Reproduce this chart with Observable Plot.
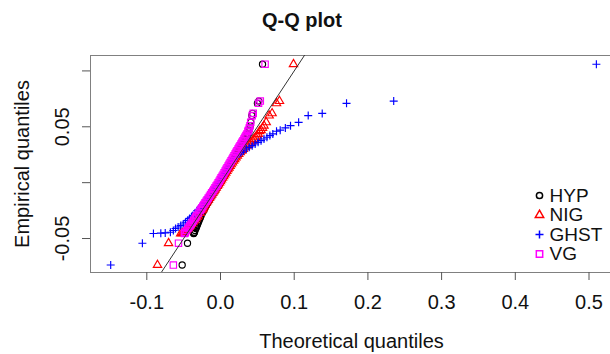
<!DOCTYPE html>
<html><head><meta charset="utf-8">
<script src="https://cdn.jsdelivr.net/npm/d3@7"></script>
<script src="https://cdn.jsdelivr.net/npm/@observablehq/plot@0.6"></script>
<style>
body{margin:0;overflow:hidden;background:#fff;font-family:"Liberation Sans",Arial,sans-serif}
#title{height:40px;line-height:40px;font-size:20px;font-weight:bold;text-align:center;width:604px;color:#111}
#chart{width:610px;overflow:hidden}
#chart svg{max-width:none !important}
</style></head><body>
<div id="title">Q-Q plot</div>
<div id="chart"></div>
<script>
// Empirical quantiles (shared y values, sorted)
const empirical = [
  -0.0737, -0.0542, -0.0455, -0.0452, -0.0450, -0.0444, -0.0428, -0.0410, -0.0397, -0.0384,
  -0.0370, -0.0354, -0.0338, -0.0320, -0.0308, -0.0295, -0.0272, -0.0250, -0.0238,
  -0.0224, -0.0211, -0.0196, -0.0181, -0.0166, -0.0152, -0.0137, -0.0121, -0.0106, -0.0091,
  -0.0076, -0.0061, -0.0046, -0.0031, -0.0016, -0.0002, 0.0013, 0.0028, 0.0043, 0.0058,
  0.0074, 0.0089, 0.0104, 0.0119, 0.0134, 0.0149, 0.0164, 0.0180, 0.0195, 0.0210,
  0.0225, 0.0241, 0.0256, 0.0271, 0.0286, 0.0301, 0.0316, 0.0331, 0.0346, 0.0361,
  0.0376, 0.0391, 0.0406, 0.0421, 0.0436,
  0.0460, 0.0470, 0.0490, 0.0510, 0.0540, 0.0600, 0.0620, 0.0710, 0.0730, 0.1060
];
// Theoretical quantiles for each fitted distribution
const hyp = [
  -0.0520, -0.0448, -0.0365, -0.0362, -0.0360, -0.0355, -0.0345, -0.0334, -0.0326, -0.0318,
  -0.0310, -0.0300, -0.0290, -0.0279, -0.0271, -0.0263, -0.0246, -0.0230, -0.0220,
  -0.0210, -0.0199, -0.0186, -0.0173, -0.0159, -0.0146, -0.0132, -0.0118, -0.0104, -0.0090,
  -0.0076, -0.0062, -0.0048, -0.0034, -0.0020, -0.0007, 0.0006, 0.0019, 0.0033, 0.0046,
  0.0060, 0.0074, 0.0087, 0.0100, 0.0114, 0.0127, 0.0140, 0.0154, 0.0168, 0.0181,
  0.0194, 0.0208, 0.0221, 0.0234, 0.0247, 0.0260, 0.0273, 0.0286, 0.0299, 0.0312,
  0.0325, 0.0337, 0.0349, 0.0360, 0.0370,
  0.0382, 0.0388, 0.0396, 0.0403, 0.0410, 0.0425, 0.0435, 0.0500, 0.0520, 0.0570
];
const nig = [
  -0.0855, -0.0705, -0.0540, -0.0520, -0.0505, -0.0490, -0.0465, -0.0441, -0.0424, -0.0408,
  -0.0391, -0.0372, -0.0353, -0.0332, -0.0318, -0.0303, -0.0278, -0.0254, -0.0241,
  -0.0236, -0.0224, -0.0209, -0.0194, -0.0179, -0.0165, -0.0150, -0.0134, -0.0119, -0.0104,
  -0.0089, -0.0074, -0.0059, -0.0044, -0.0029, -0.0015, -0.0001, 0.0013, 0.0027, 0.0042,
  0.0057, 0.0071, 0.0086, 0.0100, 0.0115, 0.0130, 0.0145, 0.0161, 0.0177, 0.0193,
  0.0210, 0.0228, 0.0247, 0.0267, 0.0288, 0.0310, 0.0333, 0.0357, 0.0382, 0.0408,
  0.0435, 0.0455, 0.0475, 0.0495, 0.0512,
  0.0530, 0.0550, 0.0570, 0.0590, 0.0620, 0.0660, 0.0700, 0.0760, 0.0800, 0.0990
];
const ghst = [
  -0.1490, -0.1060, -0.0910, -0.0810, -0.0750, -0.0680, -0.0640, -0.0610, -0.0575, -0.0540,
  -0.0505, -0.0475, -0.0445, -0.0420, -0.0395, -0.0375, -0.0345, -0.0315, -0.0295,
  -0.0275, -0.0260, -0.0243, -0.0226, -0.0209, -0.0193, -0.0176, -0.0159, -0.0142, -0.0126,
  -0.0110, -0.0094, -0.0078, -0.0062, -0.0046, -0.0031, -0.0016, -0.0001, 0.0013, 0.0028,
  0.0043, 0.0058, 0.0073, 0.0088, 0.0103, 0.0118, 0.0133, 0.0149, 0.0165, 0.0182,
  0.0200, 0.0222, 0.0248, 0.0278, 0.0312, 0.0350, 0.0390, 0.0430, 0.0470, 0.0510,
  0.0550, 0.0590, 0.0630, 0.0670, 0.0710,
  0.0760, 0.0810, 0.0880, 0.0950, 0.1060, 0.1190, 0.1380, 0.1710, 0.2350, 0.5100
];
const vg = [
  -0.0640, -0.0570, -0.0490, -0.0487, -0.0485, -0.0478, -0.0460, -0.0441, -0.0427, -0.0413,
  -0.0398, -0.0382, -0.0365, -0.0347, -0.0335, -0.0322, -0.0299, -0.0277, -0.0265,
  -0.0252, -0.0240, -0.0225, -0.0210, -0.0195, -0.0181, -0.0166, -0.0150, -0.0135, -0.0120,
  -0.0105, -0.0090, -0.0075, -0.0060, -0.0045, -0.0032, -0.0018, -0.0005, 0.0008, 0.0022,
  0.0036, 0.0049, 0.0063, 0.0076, 0.0089, 0.0103, 0.0116, 0.0130, 0.0144, 0.0157,
  0.0170, 0.0184, 0.0198, 0.0211, 0.0224, 0.0238, 0.0251, 0.0265, 0.0278, 0.0291,
  0.0305, 0.0318, 0.0331, 0.0345, 0.0358,
  0.0372, 0.0380, 0.0390, 0.0400, 0.0410, 0.0430, 0.0444, 0.0516, 0.0540, 0.0605
];

const seriesNames = ["HYP", "NIG", "GHST", "VG"];
const seriesValues = [hyp, nig, ghst, vg];
const seriesColors = ["#000000", "#ff0000", "#0000ff", "#ff00ff"];
const seriesSymbols = ["circle", "triangle", "plus", "square"];
const seriesRadius = [3.1, 3.1, 2.7, 3.6];

const xTicks = [-0.1, 0.0, 0.1, 0.2, 0.3, 0.4, 0.5];
const yTicks = [-0.05, 0.0, 0.05, 0.1];
const yTickLabels = [-0.05, 0.05];
const refLine = {intercept: 0, slope: 1};

const xDomain = [-0.1764, 0.5373];
const yDomain = [-0.0804, 0.1138];

const marks = [];
marks.push(Plot.frame({stroke: "#808080"}));
marks.push(Plot.axisX({ticks: xTicks, tickSize: 8, tickPadding: 14, stroke: "#555", fill: "#111",
  fontSize: 20, tickFormat: d => d.toFixed(1), label: null}));
marks.push(Plot.axisY({ticks: yTicks, tickSize: 8, stroke: "#555", tickFormat: () => "", label: null}));
marks.push(Plot.text(yTickLabels, {y: d => d, frameAnchor: "left", dx: -28, rotate: -90,
  text: d => d.toFixed(2), fontSize: 20, fill: "#111", textAnchor: "middle", lineAnchor: "middle"}));
marks.push(Plot.text(["Theoretical quantiles"], {frameAnchor: "bottom", dx: -2, dy: 69, fontSize: 20,
  fill: "#111", textAnchor: "middle", lineAnchor: "middle"}));
marks.push(Plot.text(["Empirical quantiles"], {frameAnchor: "left", dx: -68, rotate: -90, fontSize: 20,
  fill: "#111", textAnchor: "middle", lineAnchor: "middle"}));

seriesNames.forEach((name, i) => {
  const rows = empirical.map((y, j) => ({x: seriesValues[i][j], y}));
  marks.push(Plot.dot(rows, {x: "x", y: "y", symbol: seriesSymbols[i], stroke: seriesColors[i],
    fill: "none", r: seriesRadius[i], strokeWidth: 1.15, clip: true}));
});

// reference line y = intercept + slope * x, spanning the x domain
marks.push(Plot.line(xDomain.map(x => ({x, y: refLine.intercept + refLine.slope * x})),
  {x: "x", y: "y", stroke: "#333", strokeWidth: 1, clip: true}));

// legend
seriesNames.forEach((name, i) => {
  marks.push(Plot.dot([name], {frameAnchor: "bottom-right", dx: -77, dy: -77 + 19.5 * i,
    symbol: seriesSymbols[i], stroke: seriesColors[i], fill: "none", r: seriesRadius[i]}));
  marks.push(Plot.text([name], {frameAnchor: "bottom-right", dx: -67, dy: -77 + 19.5 * i,
    text: d => d, textAnchor: "start", lineAnchor: "middle", fontSize: 19, fill: "#111"}));
});

const chart = Plot.plot({
  width: 616, height: 314,
  marginLeft: 90, marginRight: 0, marginTop: 15, marginBottom: 82,
  x: {domain: xDomain},
  y: {domain: yDomain},
  style: {fontFamily: "'Liberation Sans', Arial, sans-serif", background: "white", overflow: "visible", maxWidth: "none"},
  marks
});
chart.style.maxWidth = "none";
document.getElementById("chart").appendChild(chart);
</script>
</body></html>
